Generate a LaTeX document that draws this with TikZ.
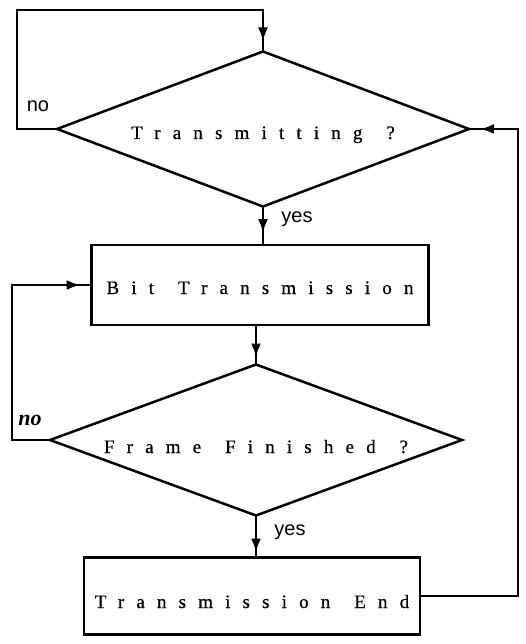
\documentclass[tikz,border=0pt]{standalone}
\usepackage{fontspec}
\setmainfont{Liberation Serif}
\newfontfamily\spacedfont[LetterSpace=64,FakeBold=0.6]{Liberation Serif}
\newfontfamily\labelfont{Liberation Sans}
\usetikzlibrary{shapes.geometric,arrows.meta,decorations.markings}
\newcommand{\lowtext}[2]{\raisebox{-#1}[0pt][0pt]{#2}}
\newcommand{\wsp}{ \hspace*{7pt}}
\begin{document}
\begin{tikzpicture}[x=1pt,y=-1pt,
  every node/.style={inner sep=0pt, outer sep=0pt},
  decision/.style={diamond, draw, line width=2.5pt, font=\spacedfont\fontsize{19}{22}\selectfont},
  process/.style={rectangle, draw, line width=2.5pt, font=\spacedfont\fontsize{19}{22}\selectfont},
  conn/.style={line width=2.5pt, line join=miter},
  arr/.style={conn, postaction={decorate}, decoration={markings, mark=at position -#1 with {\arrow{Latex[length=14pt,width=10pt]}}}},
  yn/.style={font=\labelfont\fontsize{20}{24}\selectfont},
  ynserif/.style={font=\bfseries\itshape\fontsize{22}{26}\selectfont}
]
\path[fill=white] (0,0) rectangle (525,644);

\node[decision, aspect=2.66, minimum width=412pt, minimum height=155pt] (d1) at (263,129) {\lowtext{10pt}{Transmitting\wsp?}};
\node[process, minimum width=337pt, minimum height=80pt] (b1) at (260,285) {\lowtext{9pt}{Bit\wsp Transmission}};
\node[decision, aspect=2.73, minimum width=412pt, minimum height=151pt] (d2) at (256,440) {\lowtext{13pt}{Frame\wsp Finished\wsp?}};
\node[process, minimum width=336pt, minimum height=77pt] (b2) at (252,596) {\lowtext{12pt}{Transmission\wsp End}};

\node[yn] (no1) at (38,106) {no};
\node[ynserif] (no2) at (30,420) {no};
\node[yn] (yes1) at (297,219) {yes};
\node[yn] (yes2) at (290,532) {yes};

\draw[arr=10pt] (d1.west) -- ++(-40,0) |- (263,10) -- (d1.north);
\draw[arr=12pt] (d1.south) -- (d1.south |- b1.north);
\draw[arr=7pt] (b1.south -| d2.north) -- (d2.north);
\draw[arr=5pt] (d2.south) -- (d2.south |- b2.north);
\draw[arr=11pt] (d2.west) -- ++(-38,0) |- (b1.west);
\draw[arr=11pt] (b2.east) -- ++(98,0) |- (d1.east);
\end{tikzpicture}
\end{document}
